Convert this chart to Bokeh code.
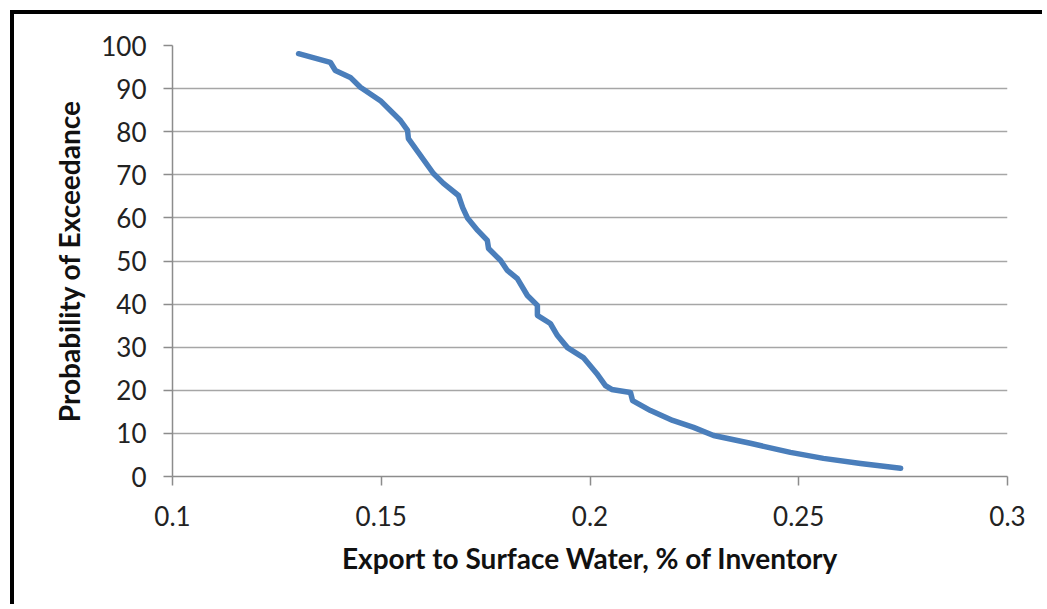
from bokeh.plotting import figure
from bokeh.embed import file_html
from bokeh.resources import INLINE
from bokeh.models import FixedTicker

export_pct = [0.1302, 0.1378, 0.1390, 0.1426, 0.1450, 0.1498, 0.1546, 0.1563, 0.1565,
              0.1625, 0.1649, 0.1685, 0.1695, 0.1707, 0.1731, 0.1754, 0.1757, 0.1786,
              0.1802, 0.1826, 0.1850, 0.1874, 0.1874, 0.1905, 0.1922, 0.1946, 0.1984,
              0.2016, 0.2037, 0.2052, 0.2097, 0.2102, 0.2145, 0.2198, 0.2248, 0.2296,
              0.2384, 0.2480, 0.2559, 0.2648, 0.2744]
prob_exceed = [98.1, 96.1, 94.2, 92.6, 90.3, 87.2, 82.6, 80.3, 78.4,
               70.3, 68.0, 65.2, 62.4, 59.9, 57.1, 54.8, 52.9, 50.1,
               47.8, 45.9, 42.0, 39.7, 37.4, 35.5, 32.7, 29.9, 27.6,
               23.9, 21.1, 20.2, 19.5, 17.6, 15.3, 13.0, 11.4, 9.5,
               7.7, 5.6, 4.2, 3.0, 1.9]

x_ticks = [0.1, 0.15, 0.2, 0.25, 0.3]
y_ticks = [0, 10, 20, 30, 40, 50, 60, 70, 80, 90, 100]

FONT = "Lato"
GRAY = "#8c8c8c"

p = figure(width=1032, height=594, output_backend="svg", toolbar_location=None,
           x_range=(0.1, 0.3), y_range=(0, 100),
           min_border_left=158, min_border_top=31, min_border_right=39, min_border_bottom=132,
           styles={"border-left": "4px solid black", "border-top": "4px solid black",
                   "margin-left": "10px", "margin-top": "10px"})
p.outline_line_color = None
p.background_fill_color = "white"
p.border_fill_color = "white"

p.line(export_pct, prob_exceed, line_color="#4a7ebb", line_width=5.5, line_cap="round", line_join="round")

p.xgrid.grid_line_color = None
p.ygrid.grid_line_color = "#a6a6a6"
p.ygrid.grid_line_width = 1.5
p.ygrid.ticker = FixedTicker(ticks=y_ticks)

p.xaxis.ticker = FixedTicker(ticks=x_ticks)
p.yaxis.ticker = FixedTicker(ticks=y_ticks)
p.xaxis.major_label_overrides = {0.1: "0.1", 0.15: "0.15", 0.2: "0.2", 0.25: "0.25", 0.3: "0.3"}

for ax in (p.xaxis, p.yaxis):
    ax.axis_line_color = GRAY
    ax.axis_line_width = 1.5
    ax.major_tick_line_color = GRAY
    ax.major_tick_line_width = 1.5
    ax.major_tick_out = 9
    ax.major_tick_in = 0
    ax.minor_tick_line_color = None
    ax.major_label_text_font = FONT
    ax.major_label_text_font_size = "26px"
    ax.major_label_text_color = "#222222"
    ax.axis_label_text_font = FONT
    ax.axis_label_text_font_style = "bold"
    ax.axis_label_text_font_size = "28px"
    ax.axis_label_text_color = "#111111"

p.xaxis.major_label_standoff = 20
p.yaxis.major_label_standoff = 17
p.xaxis.axis_label = "Export to Surface Water, % of Inventory"
p.yaxis.axis_label = "Probability of Exceedance"
p.xaxis.axis_label_standoff = 12
p.yaxis.axis_label_standoff = 12

open("out.html", "w").write(file_html(p, INLINE))
